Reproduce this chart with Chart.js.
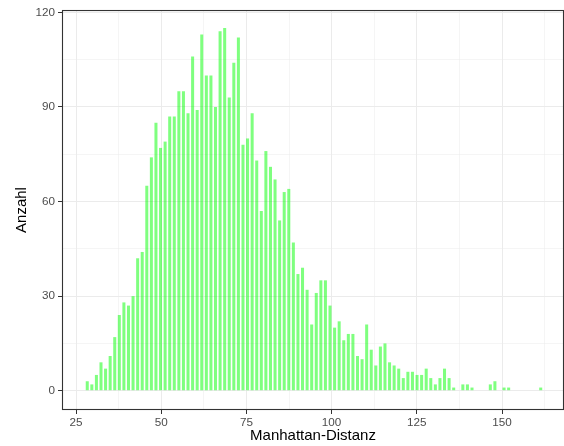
<!DOCTYPE html>
<html lang="de">
<head>
<meta charset="utf-8">
<title>Manhattan-Distanz</title>
<script src="https://cdn.jsdelivr.net/npm/chart.js@4.4.1/dist/chart.umd.min.js"></script>
<style>
  html, body { margin: 0; padding: 0; background: #ffffff; }
  #wrap { width: 564px; height: 446px; position: relative; }
</style>
</head>
<body>
<div id="wrap"><canvas id="histChart"></canvas></div>
<script>
// --- Histogram data (100 bins) ---
const firstBinCenter = 28.3;  // centre of the leftmost bin
const binWidth = 1.344;       // width of one bin on the distance axis

const counts = [
  3, 2, 5, 9, 7, 11, 17, 24, 28, 27,
  30, 42, 44, 65, 74, 85, 77, 79, 87, 87,
  95, 95, 88, 106, 89, 113, 100, 100, 90, 114,
  115, 93, 104, 112, 78, 80, 88, 73, 57, 76,
  71, 67, 54, 63, 64, 47, 37, 39, 32, 21,
  31, 35, 35, 27, 20, 22, 16, 18, 18, 11,
  10, 21, 13, 8, 14, 15, 9, 8, 7, 4,
  6, 6, 5, 5, 7, 4, 2, 4, 7, 4,
  1, 0, 2, 2, 1, 0, 0, 0, 2, 3,
  0, 1, 1, 0, 0, 0, 0, 0, 0, 1
];

// Axis ticks (major get a label, minor only a faint grid line)
const xMajorTicks = [25, 50, 75, 100, 125, 150];
const xMinorTicks = [37.5, 62.5, 87.5, 112.5, 137.5, 162.5];
const yMajorTicks = [0, 30, 60, 90, 120];
const yMinorTicks = [15, 45, 75, 105];

const xTitle = 'Manhattan-Distanz';
const yTitle = 'Anzahl';

// --- Helpers ---

const fontFamily = '"Liberation Sans", Arial, Helvetica, sans-serif';
const gridMajor = '#EBEBEB';
const axisDark = '#333333';

function setTicks(major, minor) {
  return scale => {
    scale.ticks = major.concat(minor).sort((a, b) => a - b).map(v => ({ value: v }));
  };
}

function isMajor(list, ctx) {
  return ctx.tick && list.includes(ctx.tick.value);
}

// Dark frame round the whole plotting panel
const panelBorder = {
  id: 'panelBorder',
  afterDatasetsDraw(chart) {
    const { ctx, chartArea: a } = chart;
    ctx.save();
    ctx.strokeStyle = axisDark;
    ctx.lineWidth = 1.1;
    ctx.strokeRect(a.left + 0.5, a.top + 0.5, a.right - a.left - 1, a.bottom - a.top - 1);
    ctx.restore();
  }
};

const histData = counts.map((c, i) => ({ x: firstBinCenter + i * binWidth, y: c }));

const chart = new Chart(document.getElementById('histChart'), {
  type: 'bar',
  data: {
    datasets: [{
      data: histData,
      backgroundColor: 'rgba(0, 255, 0, 0.5)',
      borderWidth: 0,
      barPercentage: 0.66,
      categoryPercentage: 1
    }]
  },
  options: {
    responsive: true,
    maintainAspectRatio: false,
    animation: false,
    layout: { padding: { top: 10, right: 0, bottom: 0, left: 0 } },
    plugins: {
      legend: { display: false },
      tooltip: { enabled: false }
    },
    scales: {
      x: {
        type: 'linear',
        min: 20.89,
        max: 168.19,
        offset: false,
        afterBuildTicks: setTicks(xMajorTicks, xMinorTicks),
        afterFit: scale => { scale.height = 36; },
        border: { display: false },
        grid: {
          offset: false,
          color: gridMajor,
          lineWidth: ctx => isMajor(xMajorTicks, ctx) ? 1 : 0.5,
          tickColor: ctx => isMajor(xMajorTicks, ctx) ? axisDark : 'rgba(0,0,0,0)',
          tickWidth: 1,
          tickLength: 4
        },
        ticks: {
          autoSkip: false,
          maxRotation: 0,
          padding: 2,
          color: '#4D4D4D',
          font: { family: fontFamily, size: 11.7 },
          callback: value => xMajorTicks.includes(value) ? String(value) : ''
        },
        title: {
          display: true,
          text: xTitle,
          color: '#000000',
          font: { family: fontFamily, size: 15 },
          padding: { top: 0, bottom: 1 }
        }
      },
      y: {
        type: 'linear',
        min: -6.12,
        max: 120.73,
        afterBuildTicks: setTicks(yMajorTicks, yMinorTicks),
        afterFit: scale => { scale.width = 62; },
        border: { display: false },
        grid: {
          color: gridMajor,
          lineWidth: ctx => isMajor(yMajorTicks, ctx) ? 1 : 0.5,
          tickColor: ctx => isMajor(yMajorTicks, ctx) ? axisDark : 'rgba(0,0,0,0)',
          tickWidth: 1,
          tickLength: 4
        },
        ticks: {
          padding: 3,
          color: '#4D4D4D',
          font: { family: fontFamily, size: 11.7 },
          callback: value => yMajorTicks.includes(value) ? String(value) : ''
        },
        title: {
          display: true,
          text: yTitle,
          color: '#000000',
          font: { family: fontFamily, size: 15 },
          padding: { top: 13, bottom: 0 }
        }
      }
    }
  },
  plugins: [panelBorder]
});
</script>
</body>
</html>
